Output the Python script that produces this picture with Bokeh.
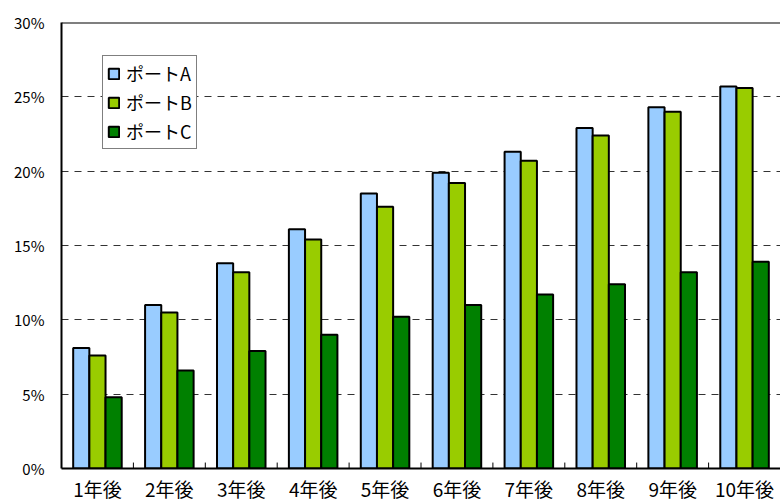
import numpy as np
from bokeh.plotting import figure
from bokeh.models import FixedTicker, PrintfTickFormatter, Span, Range1d
from bokeh.embed import file_html
from bokeh.resources import INLINE

categories = ["1年後", "2年後", "3年後", "4年後", "5年後", "6年後", "7年後", "8年後", "9年後", "10年後"]
series_names = ["ポートA", "ポートB", "ポートC"]
port_a = [8.1, 11.0, 13.8, 16.1, 18.5, 19.9, 21.3, 22.9, 24.3, 25.7]
port_b = [7.6, 10.5, 13.2, 15.4, 17.6, 19.2, 20.7, 22.4, 24.0, 25.6]
port_c = [4.8, 6.6, 7.9, 9.0, 10.2, 11.0, 11.7, 12.4, 13.2, 13.9]
y_ticks = [0, 5, 10, 15, 20, 25, 30]
colors = ["#99CCFF", "#99CC00", "#008000"]

FONT = "Noto Sans CJK JP"

p = figure(width=780, height=504, output_backend="svg", toolbar_location=None,
           x_range=Range1d(0, 10), y_range=Range1d(0, 30),
           min_border_left=61, min_border_right=0, min_border_top=22, min_border_bottom=36)
p.outline_line_color = None
p.background_fill_color = "white"
p.border_fill_color = "white"

centers = np.arange(len(categories)) + 0.5
bounds = np.arange(1, len(categories))
bw = 0.225
offsets = [-bw, 0.0, bw]
for vals, name, col, off in zip([port_a, port_b, port_c], series_names, colors, offsets):
    p.vbar(x=centers + off, top=vals, width=bw, bottom=0, fill_color=col,
           line_color="black", line_width=2, legend_label=name)

# category boundary tick marks (pointing inward)
p.segment(x0=bounds, y0=0, x1=bounds, y1=0.4, line_color="black", line_width=1)

# top border
p.add_layout(Span(location=30, dimension="width", line_color="black", line_width=2))

# grid
p.xgrid.grid_line_color = None
p.ygrid.ticker = FixedTicker(ticks=y_ticks)
p.ygrid.grid_line_color = "#333333"
p.ygrid.grid_line_dash = "7 6"
p.ygrid.grid_line_width = 1

# y axis
p.yaxis.ticker = FixedTicker(ticks=y_ticks)
p.yaxis.formatter = PrintfTickFormatter(format="%d%%")
p.yaxis.major_tick_line_color = None
p.yaxis.minor_tick_line_color = None
p.yaxis.major_tick_out = 0
p.yaxis.major_label_standoff = 17
p.yaxis.axis_line_width = 2
p.yaxis.axis_line_color = "black"
p.yaxis.major_label_text_font = FONT
p.yaxis.major_label_text_font_size = "15px"
p.yaxis.major_label_text_color = "black"

# x axis
p.xaxis.ticker = FixedTicker(ticks=[float(c) for c in centers])
p.xaxis.major_label_overrides = {float(c): lab for c, lab in zip(centers, categories)}
p.xaxis.major_tick_line_color = None
p.xaxis.minor_tick_line_color = None
p.xaxis.major_tick_out = 0
p.xaxis.major_tick_in = 0
p.xaxis.axis_line_width = 2
p.xaxis.axis_line_color = "black"
p.xaxis.major_label_standoff = 6
p.xaxis.major_label_text_font = FONT
p.xaxis.major_label_text_font_size = "19px"
p.xaxis.major_label_text_color = "black"

# legend
lg = p.legend[0]
lg.location = (41, 319)
lg.border_line_color = "black"
lg.border_line_width = 1
lg.background_fill_color = "white"
lg.background_fill_alpha = 1
lg.label_text_font = FONT
lg.label_text_font_size = "18px"
lg.label_text_color = "black"
lg.glyph_width = 13
lg.glyph_height = 13
lg.label_standoff = 6
lg.label_height = 20
lg.spacing = 3
lg.padding = 4
lg.margin = 0

open("out.html", "w").write(file_html(p, INLINE))
